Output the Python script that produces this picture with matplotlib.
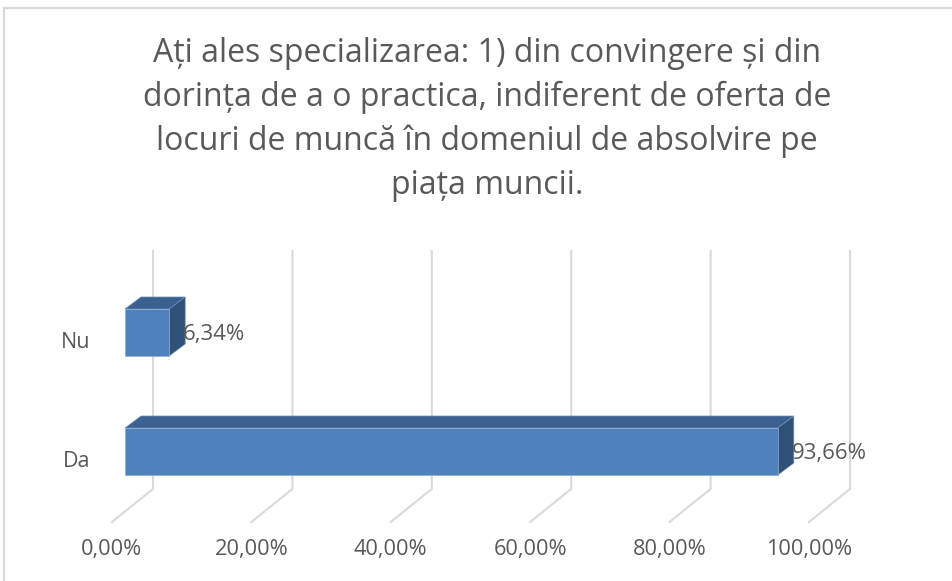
# 3D-style horizontal bar chart (Excel look) for the "Da / Nu" survey answer

import matplotlib.pyplot as plt
from matplotlib.patches import Polygon, Rectangle
from matplotlib.lines import Line2D

# data
categories = ["Da", "Nu"]
values = [93.66, 6.34]
value_labels = ["93,66%", "6,34%"]
ticks = [0, 20, 40, 60, 80, 100]
tick_labels = ["0,00%", "20,00%", "40,00%", "60,00%", "80,00%", "100,00%"]
title_lines = [
    "Ați ales specializarea: 1) din convingere și din",
    "dorința de a o practica, indiferent de oferta de",
    "locuri de muncă în domeniul de absolvire pe",
    "piața muncii.",
]

FONT = "Open Sans"
TEXT_COLOR = "#595959"
GRID_COLOR = "#d9d9d9"
FRONT = "#4f81bd"
TOP = "#3c6191"
SIDE = "#2f5178"

W, H = 953, 581
fig = plt.figure(figsize=(W / 100, H / 100), dpi=100)
fig.patch.set_facecolor("white")

# chart frame (only top and left edge are visible in the crop)
fig.add_artist(Line2D([4 / W, 4 / W], [0, 1 - 8 / H], color=GRID_COLOR, lw=1.6))
fig.add_artist(Line2D([4 / W, 1], [1 - 8 / H, 1 - 8 / H], color=GRID_COLOR, lw=1.6))

# front plane of the plot
ax = fig.add_axes([125 / W, (H - 511) / H, 697 / W, 238 / H])
ax.set_xlim(0, 100)
ax.set_ylim(-0.5, 1.5)
ax.axis("off")

# pixel -> data units
sx = 100 / 697
sy = 2.0 / 238

# 3D geometry (in pixels)
bar_h = 47 * sy
depth_x, depth_y = 16 * sx, 12 * sy
floor_y = -0.592
wall_dx, wall_dy = 28 * sx, 33 * sy
floor_dx = -13 * sx
wall_top = 1.685

# gridlines: back wall + floor
for t, lab in zip(ticks, tick_labels):
    xs = [t + floor_dx, t + wall_dx, t + wall_dx]
    ys = [floor_y, floor_y + wall_dy, wall_top]
    ax.plot(xs, ys, color=GRID_COLOR, lw=1.5, clip_on=False, zorder=1)
    ax.text(t + floor_dx, floor_y - 28 * sy, lab, ha="center", va="center",
            fontsize=15.7, color=TEXT_COLOR, family=FONT)

# bars
for i, (cat, v, lab) in enumerate(zip(categories, values, value_labels)):
    yb, yt = i - bar_h / 2, i + bar_h / 2
    top = Polygon([(0, yt), (v, yt), (v + depth_x, yt + depth_y), (depth_x, yt + depth_y)],
                  closed=True, fc=TOP, ec="#6f8fb8", lw=0.5, clip_on=False, zorder=3)
    side = Polygon([(v, yb), (v, yt), (v + depth_x, yt + depth_y), (v + depth_x, yb + depth_y)],
                   closed=True, fc=SIDE, ec="#6f8fb8", lw=0.5, clip_on=False, zorder=3)
    front = Rectangle((0, yb), v, bar_h, fc=FRONT, ec="#8eaad2", lw=0.5,
                      clip_on=False, zorder=4)
    ax.add_patch(top)
    ax.add_patch(side)
    ax.add_patch(front)

    ax.text(v + 14 * sx, i - 2 * sy, lab, ha="left", va="center",
            fontsize=16, color=TEXT_COLOR, family=FONT, zorder=5)
    ax.text(-35 * sx, i - 10 * sy, cat, ha="right", va="center",
            fontsize=15.5, color=TEXT_COLOR, family=FONT)

# title
for k, line in enumerate(title_lines):
    fig.text(487 / W, 1 - (62 + 44 * k) / H, line, ha="center", va="baseline",
             fontsize=23, color=TEXT_COLOR, family=FONT)

fig.savefig("out.png", dpi=100)
